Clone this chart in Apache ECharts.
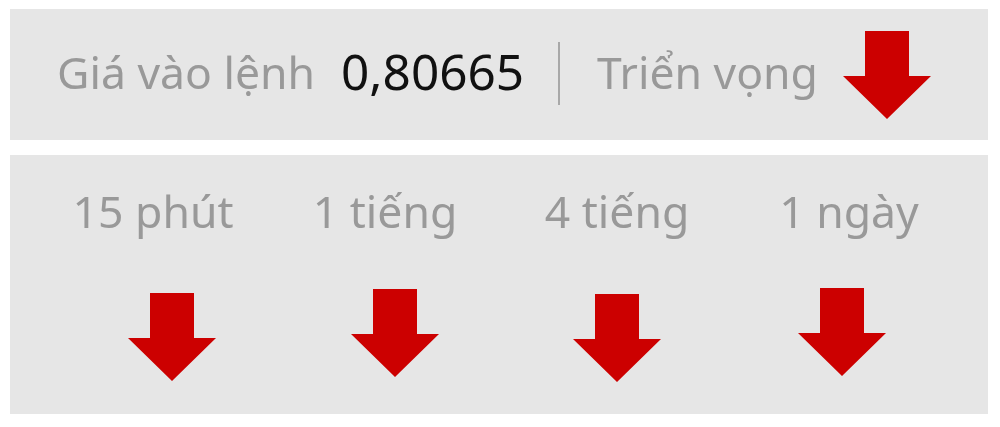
<!DOCTYPE html>
<html>
<head>
<meta charset="utf-8">
<script src="https://cdn.jsdelivr.net/npm/echarts@6/dist/echarts.min.js"></script>
<style>
  html, body { margin: 0; padding: 0; background: #ffffff; }
  #chart { width: 1000px; height: 427px; }
</style>
</head>
<body>
<div id="chart"></div>
<script>
// data
const entryLabel = 'Giá vào lệnh';
const entryPrice = '0,80665';
const outlookLabel = 'Triển vọng';
const outlookSignal = ['down'];
const timeframes = ['15 phút', '1 tiếng', '4 tiếng', '1 ngày'];
const signals = ['down', 'down', 'down', 'down'];

// styles
const panelColor = '#e6e6e6';
const greyText = '#999999';
const arrowRed = '#cc0000';
const fontFamily = '"Noto Sans", sans-serif';
const arrowNudge = [[19, 2], [10, -2], [0, 3], [-7, -3]];

const arrowPaths = {
    down: 'path://M25,0 L75,0 L75,51 L100,51 L50,100 L0,51 L25,51 Z',
    up: 'path://M25,100 L75,100 L75,49 L100,49 L50,0 L0,49 L25,49 Z'
};

let chart = echarts.init(document.getElementById('chart'));

chart.setOption({
    backgroundColor: '#ffffff',
    animation: false,
    graphic: [
        { type: 'rect', z: -10, shape: { x: 10, y: 9, width: 978, height: 131 }, style: { fill: panelColor } },
        { type: 'rect', z: -10, shape: { x: 10, y: 155, width: 978, height: 259 }, style: { fill: panelColor } },
        { type: 'text', style: { text: entryLabel, x: 57, y: 76, fill: greyText, font: '44.5px ' + fontFamily, verticalAlign: 'middle' } },
        { type: 'text', style: { text: entryPrice, x: 341, y: 76, fill: '#111111', font: '49.5px ' + fontFamily, verticalAlign: 'middle' } },
        { type: 'line', shape: { x1: 559, y1: 42, x2: 559, y2: 105 }, style: { stroke: '#a8a8a8', lineWidth: 2 } },
        { type: 'text', style: { text: outlookLabel, x: 597, y: 76, fill: greyText, font: '44.5px ' + fontFamily, verticalAlign: 'middle' } }
    ],
    grid: [
        { left: 37, width: 928, top: 250, height: 170 },
        { left: 843, width: 88, top: 31, height: 88 }
    ],
    xAxis: [
        {
            type: 'category', gridIndex: 0, position: 'top', data: timeframes,
            axisLine: { show: false }, axisTick: { show: false },
            axisLabel: { color: greyText, fontSize: 44.5, fontFamily: fontFamily, margin: 12 }
        },
        {
            type: 'category', gridIndex: 1, data: [outlookLabel], show: false
        }
    ],
    yAxis: [
        { type: 'value', gridIndex: 0, min: 0, max: 1, show: false },
        { type: 'value', gridIndex: 1, min: 0, max: 1, show: false }
    ],
    series: [
        {
            type: 'scatter', xAxisIndex: 0, yAxisIndex: 0,
            data: timeframes.map((t, i) => ({
                value: [t, 0.5],
                symbol: arrowPaths[signals[i]],
                symbolOffset: arrowNudge[i]
            })),
            symbolSize: [88, 88],
            itemStyle: { color: arrowRed, opacity: 1 },
            silent: true
        },
        {
            type: 'scatter', xAxisIndex: 1, yAxisIndex: 1,
            data: [{ value: [outlookLabel, 0.5], symbol: arrowPaths[outlookSignal[0]] }],
            symbolSize: [88, 88],
            itemStyle: { color: arrowRed, opacity: 1 },
            silent: true
        }
    ]
});
</script>
</body>
</html>
